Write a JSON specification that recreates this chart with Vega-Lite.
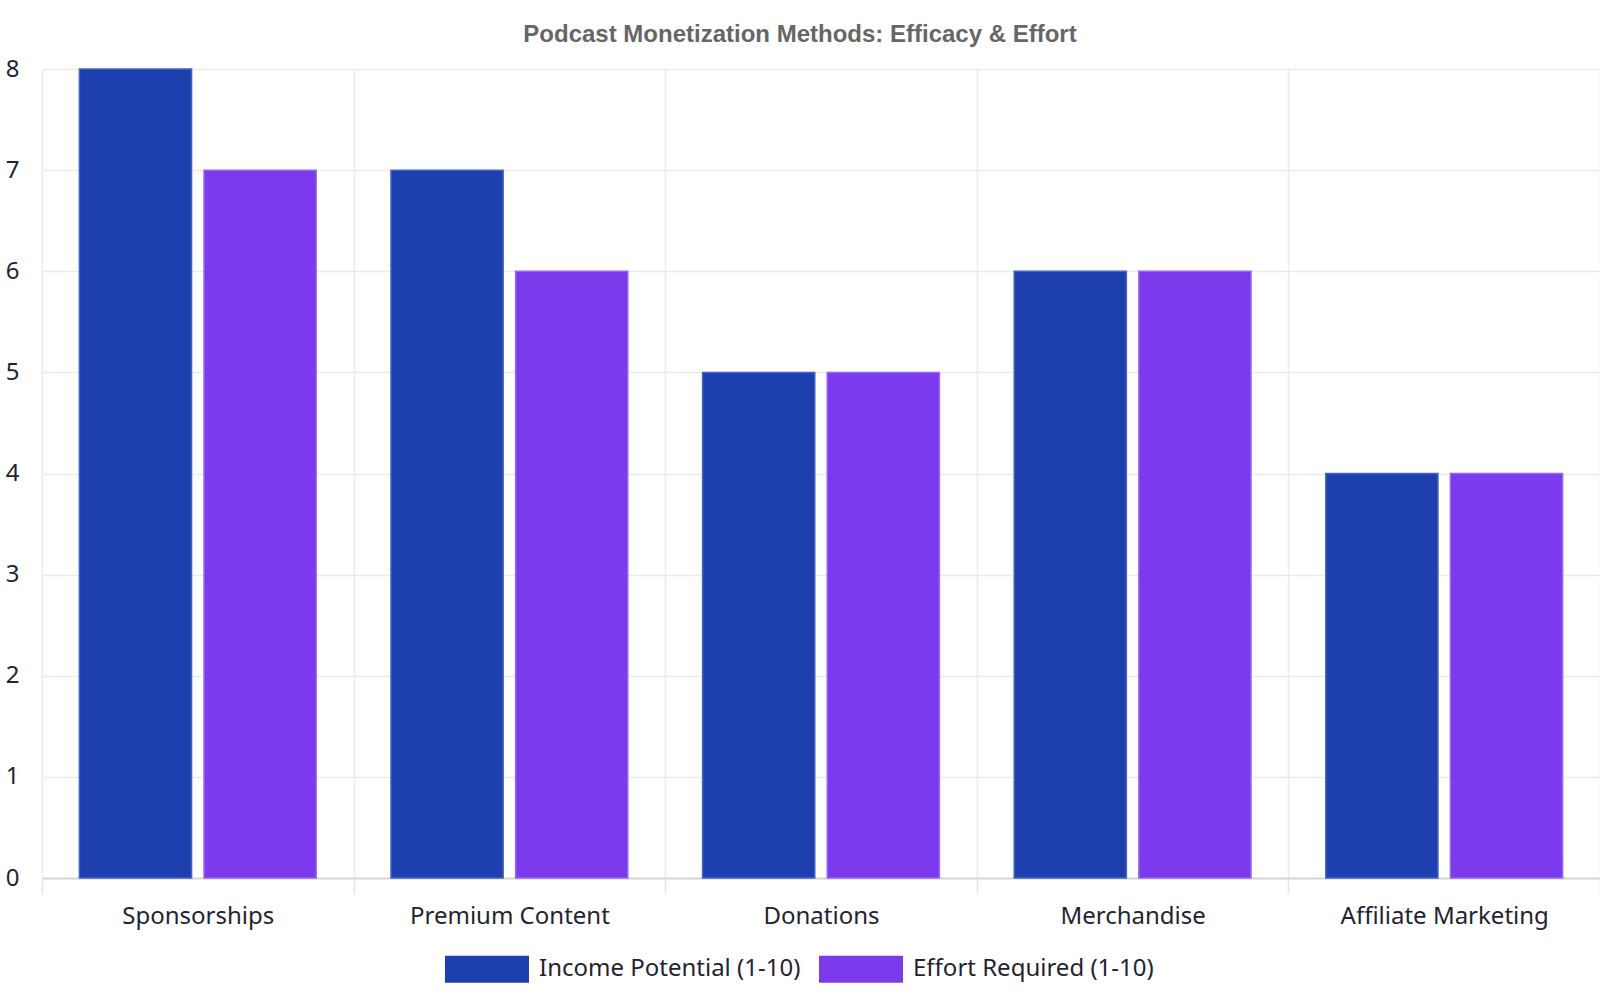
{
  "$schema": "https://vega.github.io/schema/vega-lite/v6.json",
  "autosize": "none",
  "width": 1558,
  "height": 809,
  "padding": {"left": 42, "top": 69, "right": 0, "bottom": 122},
  "background": "white",
  "title": {
    "text": "Podcast Monetization Methods: Efficacy & Effort",
    "font": "Liberation Sans",
    "fontSize": 24,
    "fontWeight": "bold",
    "color": "#666666",
    "anchor": "middle",
    "dx": -21,
    "offset": 10
  },
  "data": {
    "values": [
      {"method": "Sponsorships", "metric": "Income Potential (1-10)", "score": 8},
      {"method": "Sponsorships", "metric": "Effort Required (1-10)", "score": 7},
      {"method": "Premium Content", "metric": "Income Potential (1-10)", "score": 7},
      {"method": "Premium Content", "metric": "Effort Required (1-10)", "score": 6},
      {"method": "Donations", "metric": "Income Potential (1-10)", "score": 5},
      {"method": "Donations", "metric": "Effort Required (1-10)", "score": 5},
      {"method": "Merchandise", "metric": "Income Potential (1-10)", "score": 6},
      {"method": "Merchandise", "metric": "Effort Required (1-10)", "score": 6},
      {"method": "Affiliate Marketing", "metric": "Income Potential (1-10)", "score": 4},
      {"method": "Affiliate Marketing", "metric": "Effort Required (1-10)", "score": 4}
    ]
  },
  "mark": {"type": "bar", "strokeWidth": 1.5},
  "encoding": {
    "x": {
      "field": "method",
      "type": "nominal",
      "sort": null,
      "scale": {"paddingInner": 0, "paddingOuter": 0},
      "axis": {
        "title": null,
        "labelAngle": 0,
        "labelFont": "Noto Sans",
        "labelFontSize": 24,
        "labelColor": "#1f2430",
        "labelPadding": 10,
        "labelLimit": 0,
        "tickBand": "extent",
        "ticks": true,
        "tickSize": 16,
        "tickColor": "#e6e6e6",
        "tickWidth": 1.5,
        "grid": true,
        "gridColor": "#ebebeb",
        "gridWidth": 1.5,
        "domainColor": "#d6d6d6",
        "domainWidth": 2
      }
    },
    "xOffset": {
      "field": "metric",
      "sort": ["Income Potential (1-10)", "Effort Required (1-10)"],
      "scale": {"paddingInner": 0.1, "paddingOuter": 0.3}
    },
    "y": {
      "field": "score",
      "type": "quantitative",
      "scale": {"domain": [0, 8], "nice": false},
      "axis": {
        "title": null,
        "values": [0, 1, 2, 3, 4, 5, 6, 7, 8],
        "labelFont": "Noto Sans",
        "labelFontSize": 24,
        "labelColor": "#1f2430",
        "labelPadding": 23,
        "ticks": false,
        "domain": false,
        "grid": true,
        "gridColor": "#ebebeb",
        "gridWidth": 1.5
      }
    },
    "color": {
      "field": "metric",
      "type": "nominal",
      "sort": ["Income Potential (1-10)", "Effort Required (1-10)"],
      "scale": {
        "domain": ["Income Potential (1-10)", "Effort Required (1-10)"],
        "range": ["#1e40af", "#7c3aed"]
      },
      "legend": {
        "title": null,
        "orient": "none",
        "direction": "horizontal",
        "legendX": 403,
        "legendY": 858,
        "symbolType": "M-1,-0.32H1V0.32H-1Z",
        "symbolSize": 7056,
        "symbolStrokeWidth": 0,
        "labelFont": "Noto Sans",
        "labelFontSize": 24,
        "labelColor": "#1f2430",
        "labelLimit": 0,
        "labelOffset": 10,
        "columnPadding": 18,
        "symbolOpacity": 1
      }
    },
    "stroke": {
      "field": "metric",
      "type": "nominal",
      "scale": {
        "domain": ["Income Potential (1-10)", "Effort Required (1-10)"],
        "range": ["#4463c9", "#9866f0"]
      },
      "legend": null
    }
  },
  "config": {
    "view": {"stroke": null}
  }
}
